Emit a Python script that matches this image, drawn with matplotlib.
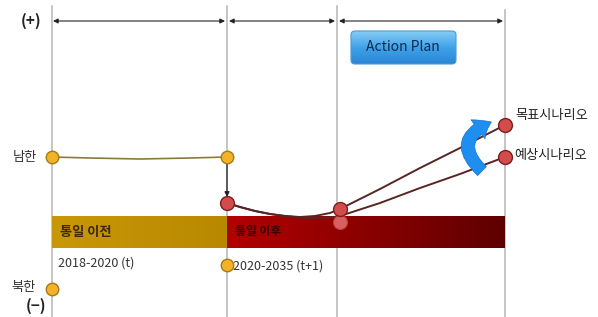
import matplotlib
matplotlib.use("Agg")
import matplotlib.pyplot as plt
import numpy as np
from matplotlib.patches import FancyBboxPatch, FancyArrowPatch
from matplotlib.colors import LinearSegmentedColormap

plt.rcParams["font.family"] = ["Noto Sans CJK KR", "DejaVu Sans"]

# 단계 경계 (x 위치) 와 구간
stage_x = [52, 227, 337, 505]
periods = ["2018-2020 (t)", "2020-2035 (t+1)"]
bar_labels = ["통일 이전", "통일 이후"]

# 남한/북한 기준점 (x, y)
south_x = [52, 90, 140, 190, 227]
south_y = [157, 158, 159, 158, 157]
north_pt = (52, 289)
start2020 = (227, 265)

# 시나리오 곡선
target_x = [227, 240, 255, 270, 285, 300, 315, 330, 340, 380, 420, 460, 505]
target_y = [203, 207, 211, 214, 216, 217, 216, 213, 209, 189, 168, 148, 125]
expect_x = [227, 240, 255, 270, 285, 300, 315, 330, 340, 380, 420, 460, 505]
expect_y = [203, 207, 211, 214, 216, 217.5, 218, 217.5, 216, 203, 188, 174, 157]
red_pts_x = [227, 340, 340, 505, 505]
red_pts_y = [203, 209, 222, 125, 157]
scenario_labels = ["목표시나리오", "예상시나리오"]

fig = plt.figure(figsize=(5.98, 3.17), dpi=100)
ax = fig.add_axes([0, 0, 1, 1])
ax.axis("off")

# 세로선
for i, x in enumerate(stage_x):
    ax.plot([x, x], [6 if i < 3 else 10, 317], color="#b5b5b5", lw=1.1, zorder=1)

# 상단 화살표
for x0, x1 in [(53, 225), (229, 335), (339, 503)]:
    ax.annotate("", xy=(x1, 21), xytext=(x0, 21),
                arrowprops=dict(arrowstyle="<|-|>", color="#222222", lw=0.8,
                                mutation_scale=7, shrinkA=0, shrinkB=0))

ax.text(31, 21, "(+)", ha="center", va="center", fontsize=11, fontweight="bold", color="#222")
ax.text(36, 306, "(−)", ha="center", va="center", fontsize=11, fontweight="bold", color="#222")
ax.text(25, 157, "남한", ha="center", va="center", fontsize=9.5, color="#333")
ax.text(24, 288, "북한", ha="center", va="center", fontsize=9.5, color="#333")

# 그라데이션 막대
grad = np.linspace(0, 1, 256).reshape(1, -1)
gold = LinearSegmentedColormap.from_list("gold", ["#c99808", "#b88800"])
red = LinearSegmentedColormap.from_list("red", ["#b20000", "#8a0000", "#5e0000"])
ax.imshow(grad, cmap=gold, extent=(stage_x[0], stage_x[1], 248, 216), aspect="auto", zorder=2)
ax.imshow(grad, cmap=red, extent=(stage_x[1], stage_x[3], 248, 216), aspect="auto", zorder=2)
ax.text(60, 232, bar_labels[0], ha="left", va="center", fontsize=9.5, fontweight="bold", color="#3a2800", zorder=3)
ax.text(235, 232, bar_labels[1], ha="left", va="center", fontsize=8.5, fontweight="bold", color="#3a0000", zorder=3)

ax.text(58, 263, periods[0], ha="left", va="center", fontsize=9, color="#333", zorder=3)
ax.text(233, 266, periods[1], ha="left", va="center", fontsize=9, color="#333", zorder=3)

# Action Plan 박스
box = FancyBboxPatch((351, 31), 105, 33, boxstyle="round,pad=0,rounding_size=4",
                     facecolor="none", edgecolor="#4a9bd8", lw=0.8, zorder=4)
ax.add_patch(box)
blue = LinearSegmentedColormap.from_list("blue", ["#86ccf6", "#3fa2e8", "#2a86d6"])
im = ax.imshow(np.linspace(0, 1, 64).reshape(-1, 1), cmap=blue,
               extent=(351, 456, 64, 31), aspect="auto", zorder=3)
im.set_clip_path(box)
ax.text(403, 47, "Action Plan", ha="center", va="center", fontsize=10, color="#14294d", zorder=5)

ax.set_xlim(0, 598)
ax.set_ylim(317, 0)

# 남한 선
ax.plot(south_x, south_y, color="#8c7a3c", lw=1.2, zorder=4)
ax.annotate("", xy=(227, 197), xytext=(227, 163),
            arrowprops=dict(arrowstyle="-|>", color="#222", lw=0.9, mutation_scale=7,
                            shrinkA=0, shrinkB=0), zorder=4)

# 시나리오 곡선
ax.plot(target_x, target_y, color="#5a2424", lw=1.4, zorder=5)
ax.plot(expect_x, expect_y, color="#5a2424", lw=1.4, zorder=5)

# 파란 곡선 화살표
arr = FancyArrowPatch((484, 173), (494, 121), connectionstyle="arc3,rad=-0.8",
                      arrowstyle="simple,head_width=1.7,head_length=1.1,tail_width=0.9",
                      mutation_scale=10, facecolor="#1e8ff0", edgecolor="#1670d0", lw=0.5, zorder=6)
ax.add_patch(arr)

# 점
ox = [south_x[0], south_x[-1], north_pt[0], start2020[0]]
oy = [south_y[0], south_y[-1], north_pt[1], start2020[1]]
ax.plot(ox, oy, "o", ms=9, mfc="#f2b229", mec="#a87a10", mew=1, zorder=7)
ax.plot(red_pts_x[:2] + red_pts_x[3:], red_pts_y[:2] + red_pts_y[3:], "o", ms=10,
        mfc="#d24c4c", mec="#7a2020", mew=1, zorder=7)
ax.plot(red_pts_x[2], red_pts_y[2], "o", ms=10, mfc="#d86060", mec="#c04040", mew=0.8, zorder=6)

ax.text(515, 116, scenario_labels[0], ha="left", va="center", fontsize=9.5, color="#222", zorder=7)
ax.text(514, 155, scenario_labels[1], ha="left", va="center", fontsize=9.5, color="#222", zorder=7)

fig.savefig("out.png", dpi=100, facecolor="white")
plt.close(fig)
